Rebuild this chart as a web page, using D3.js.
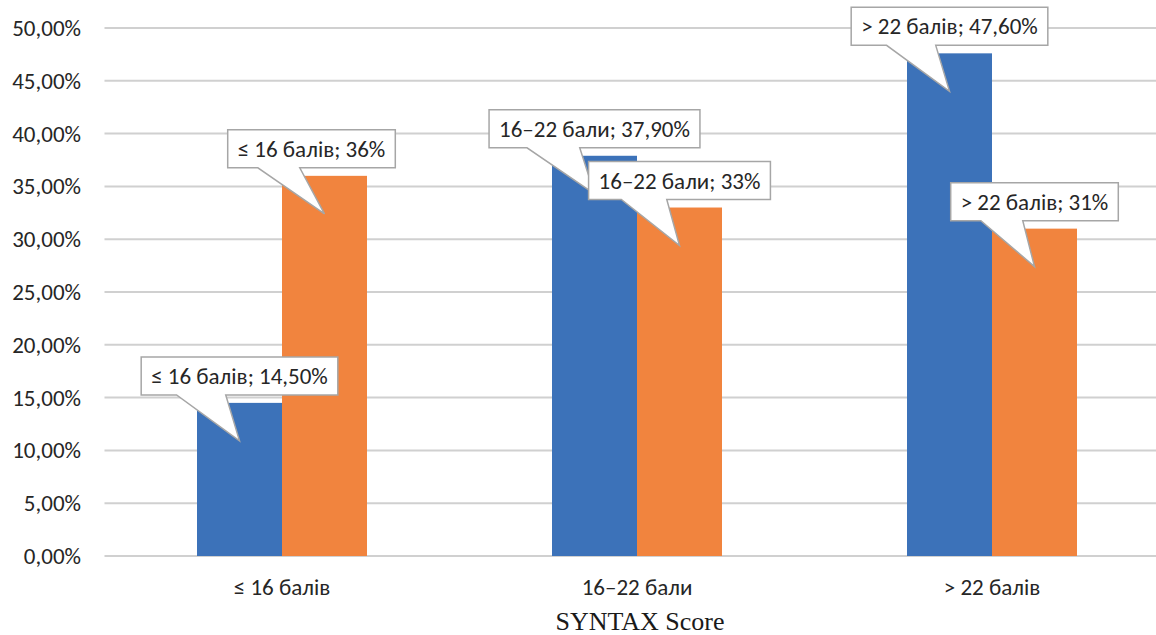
<html>
<head>
<meta charset="utf-8"/>
<title>SYNTAX Score</title>
<script src="https://cdn.jsdelivr.net/npm/d3@7"></script>
<style type="text/css">
  body { margin: 0; background: #fff; }
  .tick-label, .cat-label, .callout text {
    font-family: Carlito, "Open Sans", sans-serif;
    font-size: 23px;
    fill: #262626;
  }
  .axis-title {
    font-family: "Liberation Serif", "DejaVu Serif", serif;
    font-size: 26px;
    fill: #1a1a1a;
  }
</style>
</head>
<body>
<div id="chart"></div>
<script type="text/javascript">
// data
var categories = ["≤ 16 балів", "16–22 бали", "> 22 балів"];
var seriesA = [14.5, 37.9, 47.6];   // blue
var seriesB = [36, 33, 31];         // orange
var yTicks = [0, 5, 10, 15, 20, 25, 30, 35, 40, 45, 50];
var axisTitle = "SYNTAX Score";

var w = 1156, h = 635;
var padL = 104.5, padR = 1169.5, padT = 28, padB = 556;

var svg = d3.select("#chart").append("svg")
    .attr("width", w).attr("height", h);

var x = d3.scaleBand().domain(categories).range([padL, padR]);
var inner = d3.scaleBand().domain(["a", "b"])
    .range([x.bandwidth() / 2 - 85, x.bandwidth() / 2 + 85]);
var y = d3.scaleLinear().domain([0, 50]).range([padB, padT]);

var fmt2 = function(v) { return d3.format(".2f")(v).replace(".", ",") + "%"; };
var fmt0 = function(v) { return d3.format(".0f")(v) + "%"; };

// gridlines
svg.append("g").selectAll("line")
    .data(yTicks)
    .enter().append("line")
    .attr("x1", padL).attr("x2", w)
    .attr("y1", function(d) { return y(d); })
    .attr("y2", function(d) { return y(d); })
    .attr("stroke", "#d0d0d0")
    .attr("stroke-width", 2);

// y labels
svg.append("g").selectAll("text")
    .data(yTicks)
    .enter().append("text")
    .attr("class", "tick-label")
    .attr("x", 81)
    .attr("y", function(d) { return y(d); })
    .attr("dy", "0.35em")
    .attr("text-anchor", "end")
    .text(function(d) { return fmt2(d); });

// bars
var rows = categories.map(function(c, i) {
    return {cat: c, a: seriesA[i], b: seriesB[i]};
});
var groups = svg.append("g").selectAll("g")
    .data(rows)
    .enter().append("g")
    .attr("transform", function(d) { return "translate(" + x(d.cat) + ",0)"; });

groups.append("rect")
    .attr("x", inner("a")).attr("width", inner.bandwidth())
    .attr("y", function(d) { return y(d.a); })
    .attr("height", function(d) { return padB - y(d.a); })
    .attr("fill", "#3c72b9");
groups.append("rect")
    .attr("x", inner("b")).attr("width", inner.bandwidth())
    .attr("y", function(d) { return y(d.b); })
    .attr("height", function(d) { return padB - y(d.b); })
    .attr("fill", "#f1843e");

// category labels
svg.append("g").selectAll("text")
    .data(categories)
    .enter().append("text")
    .attr("class", "cat-label")
    .attr("x", function(d) { return x(d) + x.bandwidth() / 2; })
    .attr("y", 595)
    .attr("text-anchor", "middle")
    .text(function(d) { return d; });

svg.append("text")
    .attr("class", "axis-title")
    .attr("x", (padL + padR) / 2 + 3)
    .attr("y", 630)
    .attr("text-anchor", "middle")
    .text(axisTitle);

// callouts
var callouts = [];
categories.forEach(function(c, i) {
    callouts.push({cat: c, key: "a", v: seriesA[i], text: c + "; " + fmt2(seriesA[i]), dx: 0});
    callouts.push({cat: c, key: "b", v: seriesB[i], text: c + "; " + fmt0(seriesB[i]), dx: i == 0 ? -13 : 0});
});

callouts.forEach(function(d) {
    var tipX = x(d.cat) + inner(d.key) + inner.bandwidth() / 2;
    var tipY = y(d.v) + 38;
    var g = svg.append("g").attr("class", "callout");
    var path = g.append("path");
    var t = g.append("text")
        .attr("x", tipX + d.dx)
        .attr("y", tipY - 65)
        .attr("dy", "0.35em")
        .attr("text-anchor", "middle")
        .text(d.text);
    var bw = t.node().getComputedTextLength() + 20;
    var bh = 38;
    var x0 = tipX + d.dx - bw / 2, x1 = x0 + bw;
    var y0 = tipY - 65 - bh / 2, y1 = y0 + bh;
    var b1 = x0 + bw * 0.18, b2 = x0 + bw * 0.43;
    path.attr("d", "M" + x0 + "," + y0 + "L" + x1 + "," + y0 + "L" + x1 + "," + y1 +
              "L" + b2 + "," + y1 + "L" + tipX + "," + tipY + "L" + b1 + "," + y1 +
              "L" + x0 + "," + y1 + "Z")
        .attr("fill", "#fff")
        .attr("stroke", "#a6a6a6")
        .attr("stroke-width", 1.5);
});
</script>
</body>
</html>
